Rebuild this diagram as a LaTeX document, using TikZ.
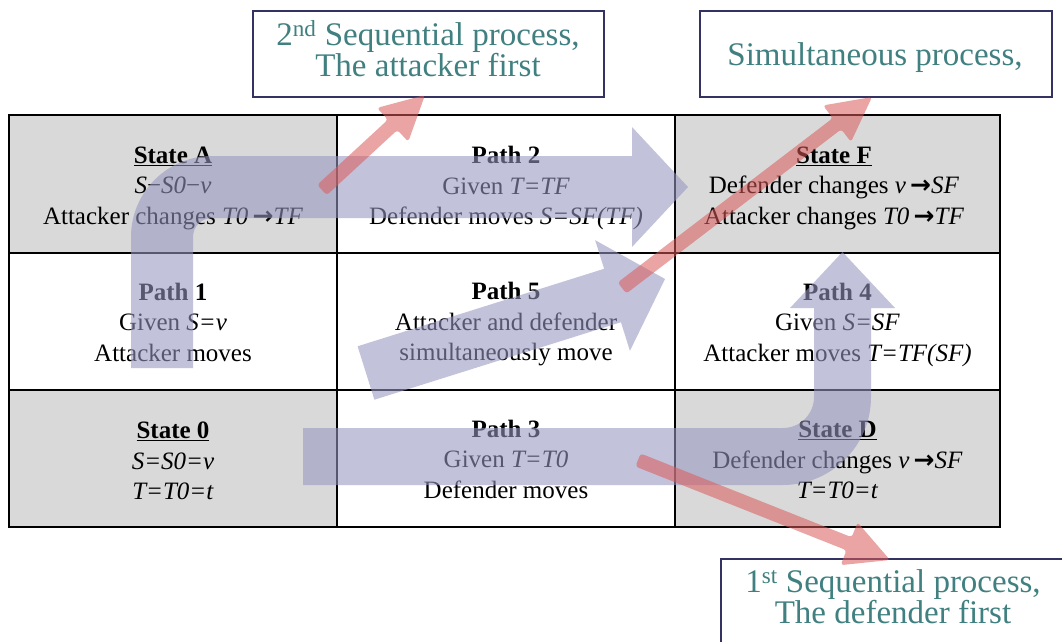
\documentclass[tikz,border=0pt]{standalone}
\usepackage{fontspec}
\setmainfont{Liberation Serif}
\newfontfamily\arrowfont{DejaVu Sans}
\usetikzlibrary{calc}

\definecolor{cellgray}{RGB}{217,217,217}
\definecolor{bandblue}{RGB}{150,150,192}
\definecolor{bandred}{RGB}{220,90,90}
\definecolor{tealtext}{RGB}{64,128,128}
\definecolor{framenavy}{RGB}{52,50,96}

% heavy arrow glyph used in the state descriptions
\newcommand\heavyto{\,{\arrowfont\bfseries →}}

% filled block arrow: style, tail, tip, half shaft width, head length, half head width
\newcommand\fatarrow[6]{%
  \coordinate (fa-base) at ($(#3)!#5!(#2)$);
  \fill[#1] ($(#2)!#4!90:(#3)$) -- ($(fa-base)!#4!90:(#3)$) -- ($(fa-base)!#6!90:(#3)$)
    -- (#3) -- ($(fa-base)!#6!-90:(#3)$) -- ($(fa-base)!#4!-90:(#3)$)
    -- ($(#2)!#4!-90:(#3)$) -- cycle;
}

\tikzset{
  cellbox/.style={draw=black, line width=1.3pt, inner sep=0pt, outer sep=0pt},
  celltext/.style={font={\fontsize{25}{30.5}\selectfont}, align=center, inner sep=0pt},
  labelbox/.style={draw=framenavy, line width=2.5pt, fill=white, inner sep=0pt,
    minimum height=86pt},
  labeltext/.style={font={\fontsize{33}{30}\selectfont}, text=tealtext, align=center,
    inner sep=0pt},
  blueband/.style={fill=bandblue, fill opacity=0.58},
  redband/.style={fill=bandred, fill opacity=0.55, rounded corners=3pt},
}

\begin{document}
\begin{tikzpicture}[x=1pt,y=-1pt]
\clip (0,0) rectangle (1062,642);
\fill[white] (0,0) rectangle (1062,642);

% table cells
\node[cellbox, fill=cellgray, minimum width=328pt, minimum height=138pt] (cA) at (173,184) {};
\node[cellbox, fill=white,    minimum width=338pt, minimum height=138pt] (c2) at (506,184) {};
\node[cellbox, fill=cellgray, minimum width=325pt, minimum height=138pt] (cF) at (837.5,184) {};
\node[cellbox, fill=white,    minimum width=328pt, minimum height=137pt] (c1) at (173,321.5) {};
\node[cellbox, fill=white,    minimum width=338pt, minimum height=137pt] (c5) at (506,321.5) {};
\node[cellbox, fill=white,    minimum width=325pt, minimum height=137pt] (c4) at (837.5,321.5) {};
\node[cellbox, fill=cellgray, minimum width=328pt, minimum height=137pt] (c0) at (173,458.5) {};
\node[cellbox, fill=white,    minimum width=338pt, minimum height=137pt] (c3) at (506,458.5) {};
\node[cellbox, fill=cellgray, minimum width=325pt, minimum height=137pt] (cD) at (837.5,458.5) {};

% cell texts
\node[celltext] (tA) at (173,188) {\textbf{\underline{State A}}\\\textit{S}−\textit{S0}−\textit{v}\\Attacker changes \textit{T0}\heavyto\textit{TF}};
\node[celltext] (t2) at (506,188) {\textbf{Path 2}\\Given \textit{T=TF}\\Defender moves \textit{S=SF(TF)}};
\node[celltext] (tF) at (834,188) {\textbf{\underline{State F}}\\Defender changes \textit{v}\heavyto\textit{SF}\\Attacker changes \textit{T0}\heavyto\textit{TF}};
\node[celltext] (t1) at (173,322) {\textbf{Path 1}\\Given \textit{S=v}\\Attacker moves};
\node[celltext] (t5) at (506,324.5) {\textbf{Path 5}\\Attacker and defender\\simultaneously move};
\node[celltext] (t4) at (837.5,324.5) {\textbf{Path 4}\\Given \textit{S=SF}\\Attacker moves \textit{T=TF(SF)}};
\node[celltext] (t0) at (173,461) {\textbf{\underline{State 0}}\\\textit{S=S0=v}\\\textit{T=T0=t}};
\node[celltext] (t3) at (506,459) {\textbf{Path 3}\\Given \textit{T=T0}\\Defender moves};
\node[celltext] (tD) at (837.5,460) {\textbf{\underline{State D}}\\Defender changes \textit{v}\heavyto\textit{SF}\\\textit{T=T0=t}};

% path 1 then path 2: bent band from State 0 side to State F
\fill[blueband] (131,368) -- (131,237) arc[start angle=180, end angle=270, radius=81]
  -- (632,156) -- (632,127) -- (688,187) -- (632,247) -- (632,218) -- (212,218)
  arc[start angle=270, end angle=180, radius=19] -- (193,368) -- cycle;

% path 3 then path 4: bent band up into State F
\fill[blueband] (303,428) -- (783,428) arc[start angle=90, end angle=0, radius=31]
  -- (814,308) -- (790,308) -- (842.5,252) -- (895,308) -- (871,308) -- (871,397)
  arc[start angle=0, end angle=90, radius=88] -- (303,485) -- cycle;

% path 5: diagonal band
\coordinate (p5tail) at (366,373);
\coordinate (p5tip) at (665,279);
\fatarrow{blueband}{p5tail}{p5tip}{28pt}{55pt}{58pt}

% process labels
\node[labelbox, minimum width=351pt] (box2nd) at (428.5,54) {};
\node[labeltext] (lab2nd) at (428,49) {2\textsuperscript{nd} Sequential process,\\The attacker first};
\node[labelbox, minimum width=352pt] (boxsim) at (876,54) {};
\node[labeltext] (labsim) at (875,58) {Simultaneous process,};
\node[labelbox, minimum width=347pt] (box1st) at (894.5,602) {};
\node[labeltext] (lab1st) at (893,597) {1\textsuperscript{st} Sequential process,\\The defender first};

% red pointers to the process labels
\coordinate (r1tail) at (322,190);
\coordinate (r1tip) at (425,95);
\coordinate (r2tail) at (622,288);
\coordinate (r2tip) at (872,97);
\coordinate (r3tail) at (638,460);
\coordinate (r3tip) at (890,560);
\fatarrow{redband}{r1tail}{r1tip}{7pt}{44pt}{23pt}
\fatarrow{redband}{r2tail}{r2tip}{7pt}{44pt}{23pt}
\fatarrow{redband}{r3tail}{r3tip}{7pt}{44pt}{23pt}
\end{tikzpicture}
\end{document}
